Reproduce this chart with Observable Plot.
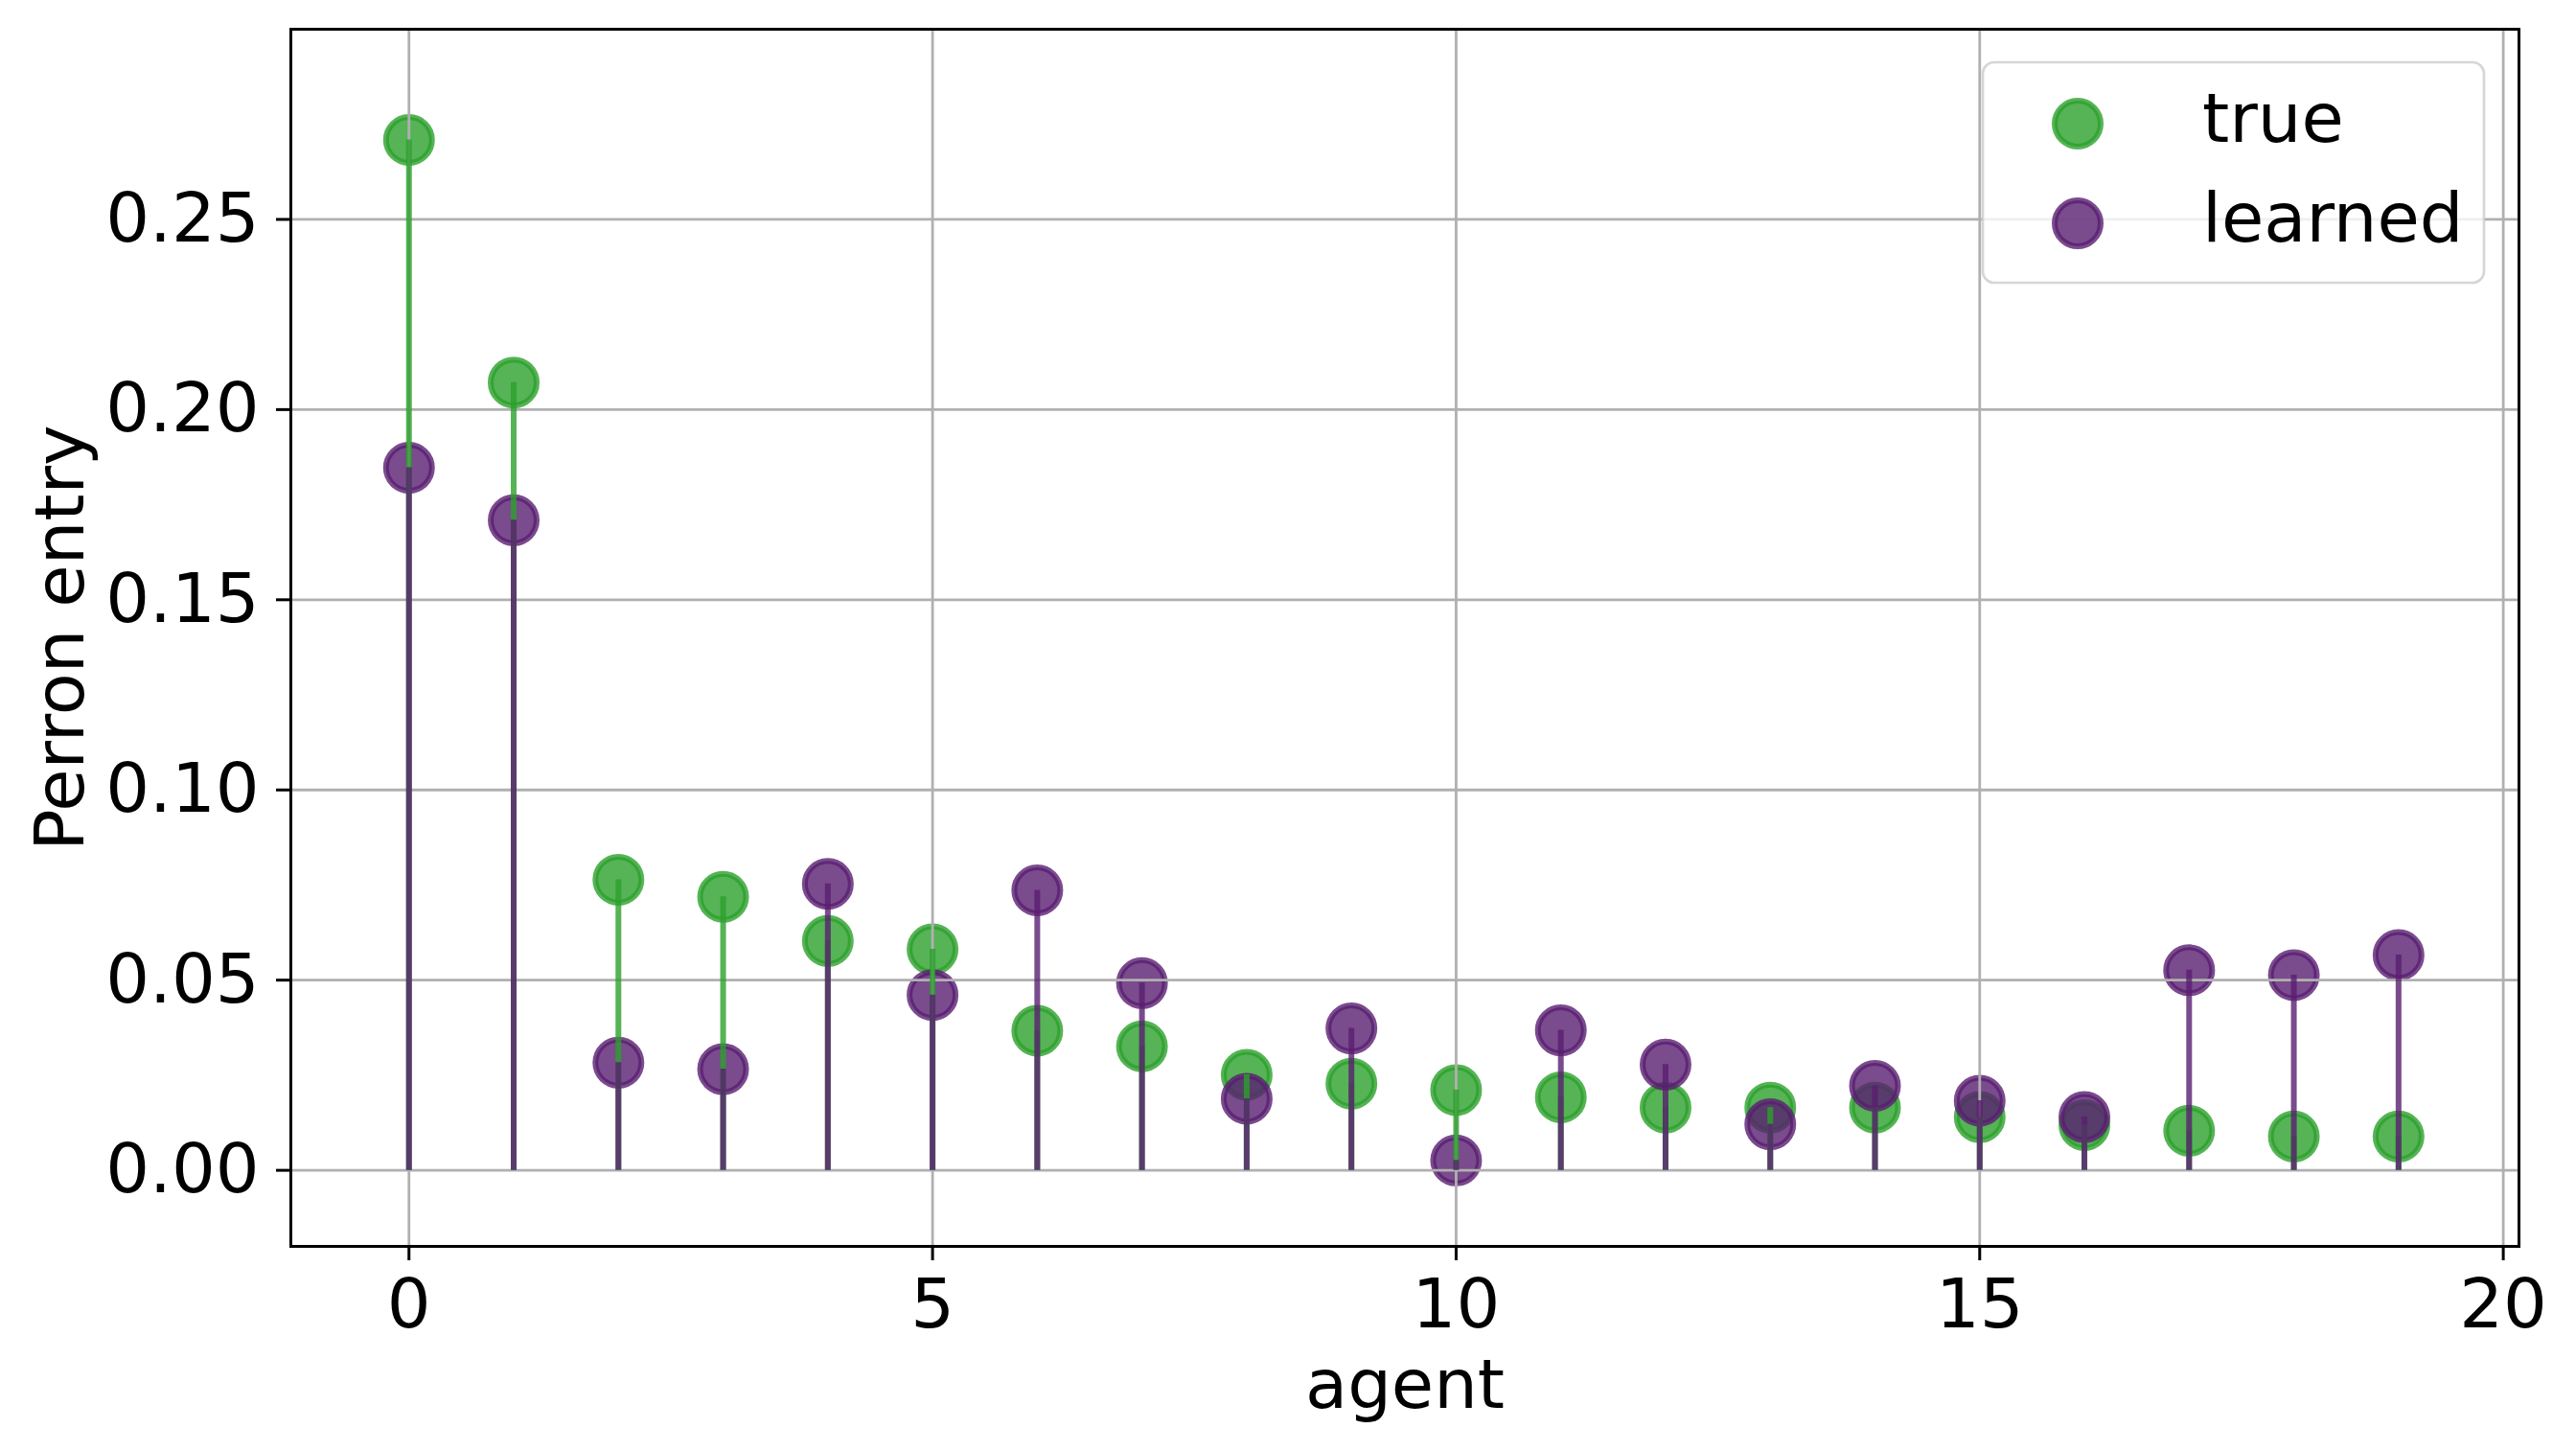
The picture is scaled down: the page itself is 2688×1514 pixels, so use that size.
<!DOCTYPE html>
<html>
<head>
<meta charset="utf-8">
<script src="https://cdn.jsdelivr.net/npm/d3@7"></script>
<script src="https://cdn.jsdelivr.net/npm/@observablehq/plot@0.6"></script>
<style>
  html, body { margin: 0; padding: 0; background: #ffffff; }
  #wrap { position: relative; width: 2688px; height: 1514px; }
  #legend { position: absolute; left: 0; top: 0; pointer-events: none; }
</style>
</head>
<body>
<div id="wrap"></div>
<script>
// ---- data ----
const agents = [0, 1, 2, 3, 4, 5, 6, 7, 8, 9, 10, 11, 12, 13, 14, 15, 16, 17, 18, 19];
const trueValues = [0.2709, 0.2071, 0.0764, 0.0719, 0.0603, 0.0581, 0.0367, 0.0326, 0.0251, 0.0228,
                    0.0211, 0.0192, 0.0165, 0.0165, 0.0165, 0.0140, 0.0119, 0.0104, 0.0089, 0.0089];
const learnedValues = [0.1847, 0.1709, 0.0283, 0.0266, 0.0753, 0.0461, 0.0736, 0.0492, 0.0188, 0.0373,
                       0.0026, 0.0368, 0.0278, 0.0121, 0.0222, 0.0183, 0.0140, 0.0526, 0.0513, 0.0566];
const xTicks = [0, 5, 10, 15, 20];
const yTicks = [0, 0.05, 0.10, 0.15, 0.20, 0.25];
const seriesNames = ["true", "learned"];
const seriesColors = ["#2ca02c", "#591e70"];
const xLabel = "agent";
const yLabel = "Perron entry";

// ---- build ----
const rows = agents.map((a, i) => ({agent: a, t: trueValues[i], l: learnedValues[i]}));
const FONT = "'DejaVu Sans', 'Liberation Sans', sans-serif";
const gridStyle = {stroke: "#b0b0b0", strokeOpacity: 1, strokeWidth: 2.8};
const dotStyle = (c) => ({r: 24, fill: c, fillOpacity: 0.8, stroke: c, strokeOpacity: 0.8, strokeWidth: 6});
const stemStyle = (c) => ({stroke: c, strokeOpacity: 0.8, strokeWidth: 6});

const chart = Plot.plot({
  width: 2688,
  height: 1514,
  marginLeft: 303,
  marginRight: 60,
  marginTop: 30,
  marginBottom: 214,
  style: {fontFamily: FONT, fontSize: "72px", background: "white", color: "black", overflow: "visible"},
  x: {domain: [-1.128, 20.15]},
  y: {domain: [-0.02, 0.30]},
  marks: [
    Plot.dot(rows, {x: "agent", y: "t", ...dotStyle(seriesColors[0])}),
    Plot.dot(rows, {x: "agent", y: "l", ...dotStyle(seriesColors[1])}),
    Plot.gridX(xTicks, gridStyle),
    Plot.gridY(yTicks, gridStyle),
    Plot.ruleX(rows, {x: "agent", y1: 0, y2: "t", ...stemStyle(seriesColors[0])}),
    Plot.ruleX(rows, {x: "agent", y1: 0, y2: "l", ...stemStyle(seriesColors[1])}),
    Plot.frame({stroke: "black", strokeWidth: 3}),
    Plot.axisX(xTicks, {
      tickSize: 15, tickPadding: 18, strokeWidth: 3, stroke: "black", fill: "black",
      label: xLabel, labelAnchor: "center", labelOffset: 168, labelArrow: "none"
    }),
    Plot.axisY(yTicks, {
      tickSize: 15, tickPadding: 18, strokeWidth: 3, stroke: "black", fill: "black",
      tickFormat: d3.format(".2f"),
      label: yLabel, labelAnchor: "center", labelOffset: 268, labelArrow: "none"
    })
  ]
});

const wrap = document.getElementById("wrap");
wrap.appendChild(chart);

// ---- legend (overlay, inside the axes like the reference) ----
const lg = d3.select(wrap).append("svg")
  .attr("id", "legend")
  .attr("width", 2688).attr("height", 1514);
lg.append("rect")
  .attr("x", 2069).attr("y", 65).attr("width", 523).attr("height", 230)
  .attr("rx", 12).attr("ry", 12)
  .attr("fill", "white").attr("fill-opacity", 0.8)
  .attr("stroke", "#cccccc").attr("stroke-opacity", 0.8).attr("stroke-width", 2.7);
seriesNames.forEach((name, i) => {
  const cy = 129 + i * 104;
  lg.append("circle")
    .attr("cx", 2168).attr("cy", cy).attr("r", 24)
    .attr("fill", seriesColors[i]).attr("fill-opacity", 0.8)
    .attr("stroke", seriesColors[i]).attr("stroke-opacity", 0.8).attr("stroke-width", 6);
  lg.append("text")
    .attr("x", 2298).attr("y", cy + 19)
    .attr("font-family", FONT).attr("font-size", 72).attr("fill", "black")
    .text(name);
});
</script>
</body>
</html>
